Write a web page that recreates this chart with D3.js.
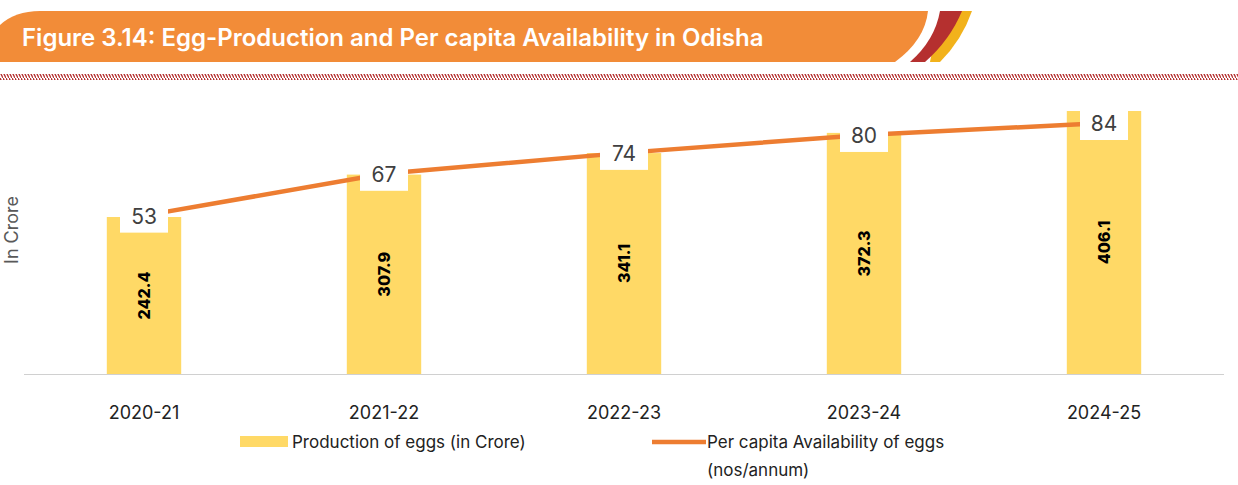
<!DOCTYPE html>
<html><head><meta charset="utf-8">
<script src="https://cdn.jsdelivr.net/npm/d3@7"></script>
<style>body{margin:0;background:#fff}svg{display:block}</style>
</head><body>
<svg id="chart" width="1238" height="485"></svg>
<script>
const years = ["2020-21", "2021-22", "2022-23", "2023-24", "2024-25"];
const production = [242.4, 307.9, 341.1, 372.3, 406.1];
const perCapita = [53, 67, 74, 80, 84];

const svg = d3.select("#chart");
const font = "Inter, sans-serif";

// header band
svg.append("path").attr("fill", "#f2b21b")
  .attr("d", "M930,62 L940,62 Q962,40 972,11 L940,11 Z");
svg.append("path").attr("fill", "#b5302f")
  .attr("d", "M900,62 L925,62 Q950,40 962,11 L925,11 Z");
svg.append("path").attr("fill", "#fff")
  .attr("d", "M895,62 L910,62 Q935,40 940,11 L925,11 Z");
svg.append("path").attr("fill", "#f28c38")
  .attr("d", "M0,62 L895,62 Q925,40 928,11 L40,11 Q15,11 0,25 Z");
svg.append("text").attr("x", 22).attr("y", 46)
  .style("font", `600 24px ${font}`).style("fill", "#fff")
  .text("Figure 3.14: Egg-Production and Per capita Availability in Odisha");

// hatched rule
const pat = svg.append("defs").append("pattern").attr("id", "hatch")
  .attr("width", 3).attr("height", 6).attr("patternUnits", "userSpaceOnUse");
pat.append("line").attr("x1", 0).attr("y1", 0).attr("x2", 3).attr("y2", 6)
  .attr("stroke", "#b5302f").attr("stroke-width", 1.3);
svg.append("rect").attr("x", 0).attr("y", 74).attr("width", 1238).attr("height", 6)
  .attr("fill", "url(#hatch)");

const x = d3.scaleBand().domain(years).range([24, 1224]).paddingInner(0.69).paddingOuter(0.345);
const y = d3.scaleLinear().domain([0, 406.1]).range([374, 111]);
const y2 = d3.scaleLinear().domain([0, 84]).range([374, 123]);

svg.selectAll(".bar").data(production).join("rect")
  .attr("x", (d, i) => x(years[i])).attr("width", x.bandwidth())
  .attr("y", d => y(d)).attr("height", d => y(0) - y(d)).attr("fill", "#ffd966");

svg.append("line").attr("x1", 24).attr("x2", 1224).attr("y1", 374.5).attr("y2", 374.5)
  .attr("stroke", "#d0d0d0");

svg.selectAll(".bl").data(production).join("text")
  .attr("transform", (d, i) => `translate(${x(years[i]) + x.bandwidth() / 2 + 6},${(y(d) + y(0)) / 2}) rotate(-90)`)
  .attr("text-anchor", "middle")
  .style("font", `800 16px ${font}`).text(d => d.toFixed(1));

const cx = (d, i) => x(years[i]) + x.bandwidth() / 2;
svg.append("path").datum(perCapita)
  .attr("d", d3.line().x(cx).y(d => y2(d)))
  .attr("fill", "none").attr("stroke", "#ed7d31").attr("stroke-width", 4.5);

const lbl = svg.selectAll(".pl").data(perCapita).join("g")
  .attr("transform", (d, i) => `translate(${cx(d, i)},${y2(d)})`);
lbl.append("rect").attr("x", -24).attr("y", -17).attr("width", 48).attr("height", 34).attr("fill", "#fff");
lbl.append("text").attr("text-anchor", "middle").attr("y", 8)
  .style("font", `21px ${font}`).style("fill", "#404040").text(d => d);

svg.selectAll(".tk").data(years).join("text")
  .attr("x", d => x(d) + x.bandwidth() / 2).attr("y", 419).attr("text-anchor", "middle")
  .style("font", `18px ${font}`).style("fill", "#222").text(d => d);

svg.append("text").attr("transform", "translate(18,230) rotate(-90)").attr("text-anchor", "middle")
  .style("font", `18px ${font}`).style("fill", "#595959").text("In Crore");

// legend
svg.append("rect").attr("x", 240).attr("y", 436).attr("width", 48).attr("height", 11).attr("fill", "#ffd966");
svg.append("text").attr("x", 292).attr("y", 448).style("font", `17px ${font}`).style("fill", "#222")
  .text("Production of eggs (in Crore)");
svg.append("line").attr("x1", 652).attr("x2", 706).attr("y1", 442).attr("y2", 442)
  .attr("stroke", "#ed7d31").attr("stroke-width", 4.5);
svg.append("text").attr("x", 707).attr("y", 448).style("font", `17px ${font}`).style("fill", "#222")
  .text("Per capita Availability of eggs");
svg.append("text").attr("x", 707).attr("y", 476).style("font", `17px ${font}`).style("fill", "#222")
  .text("(nos/annum)");
</script>
</body></html>
